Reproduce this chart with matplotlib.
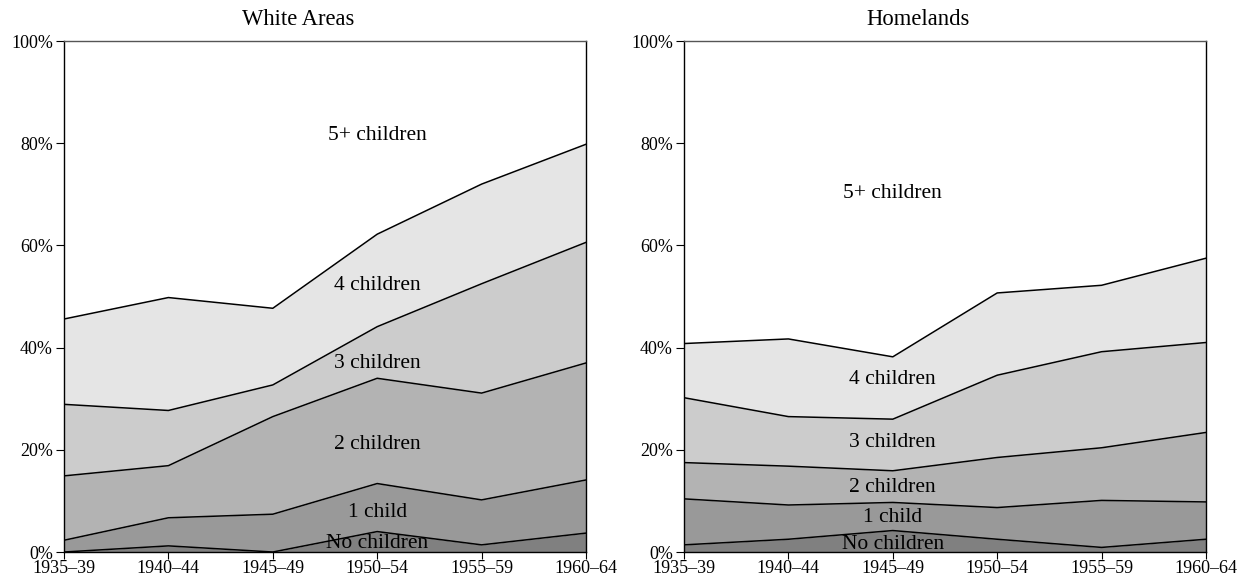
import numpy as np
import matplotlib
matplotlib.use("Agg")
import matplotlib.pyplot as plt
from matplotlib.ticker import PercentFormatter

plt.rcParams['font.family'] = ['Liberation Serif', 'DejaVu Serif']

periods = ['1935–39', '1940–44', '1945–49', '1950–54', '1955–59', '1960–64']
categories = ['No children', '1 child', '2 children', '3 children', '4 children', '5+ children']
colors = ['#808080', '#999999', '#b3b3b3', '#cccccc', '#e5e5e5', '#ffffff']

# share of women (%) by number of children, per birth cohort
white_none = [0.0, 1.2, 0.0, 4.0, 1.4, 3.7]
white_one = [2.3, 5.5, 7.4, 9.4, 8.8, 10.4]
white_two = [12.6, 10.2, 19.1, 20.6, 20.9, 22.9]
white_three = [14.0, 10.8, 6.2, 10.1, 21.4, 23.6]
white_four = [16.7, 22.1, 15.0, 18.1, 19.5, 19.2]
white_five = [54.4, 50.2, 52.3, 37.8, 28.0, 20.2]

home_none = [1.4, 2.5, 4.2, 2.5, 0.9, 2.5]
home_one = [9.0, 6.7, 5.5, 6.2, 9.2, 7.3]
home_two = [7.1, 7.6, 6.2, 9.8, 10.3, 13.6]
home_three = [12.7, 9.7, 10.1, 16.1, 18.8, 17.6]
home_four = [10.6, 15.2, 12.2, 16.1, 13.0, 16.5]
home_five = [59.2, 58.3, 61.8, 49.3, 47.8, 42.5]

# label anchor per category: (x index, y %)
white_labels = [(3, 1.6), (3, 7.8), (3, 21.0), (3, 36.8), (3, 52.2), (3, 81.6)]
home_labels = [(2, 1.4), (2, 6.8), (2, 12.7), (2, 21.5), (2, 33.7), (2, 70.2)]


def draw_panel(ax, title, series, label_pos):
    x = np.arange(len(periods))
    tops = np.cumsum(np.array(series), axis=0)
    bottom = np.zeros(len(periods))
    for top, color in zip(tops, colors):
        ax.fill_between(x, bottom, top, color=color, linewidth=0)
        bottom = top
    for top in tops[:-1]:
        ax.plot(x, top, color='black', lw=1.1)
    for name, (xi, yv) in zip(categories, label_pos):
        ax.text(xi, yv, name, ha='center', va='center', fontsize=15.5)

    ax.set_xlim(0, len(periods) - 1)
    ax.set_ylim(0, 100)
    ax.set_xticks(x)
    ax.set_xticklabels(periods, fontsize=13)
    ax.set_yticks(range(0, 101, 20))
    ax.yaxis.set_major_formatter(PercentFormatter(decimals=0))
    ax.tick_params(axis='y', labelsize=13, length=6, direction='out', pad=2)
    ax.tick_params(axis='x', length=5, direction='out', pad=1)
    for s in ax.spines.values():
        s.set_linewidth(1.0)
        s.set_color('black')
    ax.spines['top'].set_color('#555555')
    # title centred over the plot plus its tick-label column
    ax.set_title(title, fontsize=16.3, pad=11.5, x=0.448)


fig = plt.figure(figsize=(12.5, 5.88), dpi=100)
ax1 = fig.add_axes([0.0512, 0.0612, 0.4176, 0.869])
ax2 = fig.add_axes([0.5472, 0.0612, 0.4176, 0.869])

draw_panel(ax1, 'White Areas',
           [white_none, white_one, white_two, white_three, white_four, white_five],
           white_labels)
draw_panel(ax2, 'Homelands',
           [home_none, home_one, home_two, home_three, home_four, home_five],
           home_labels)

fig.savefig('out.png', dpi=100)
